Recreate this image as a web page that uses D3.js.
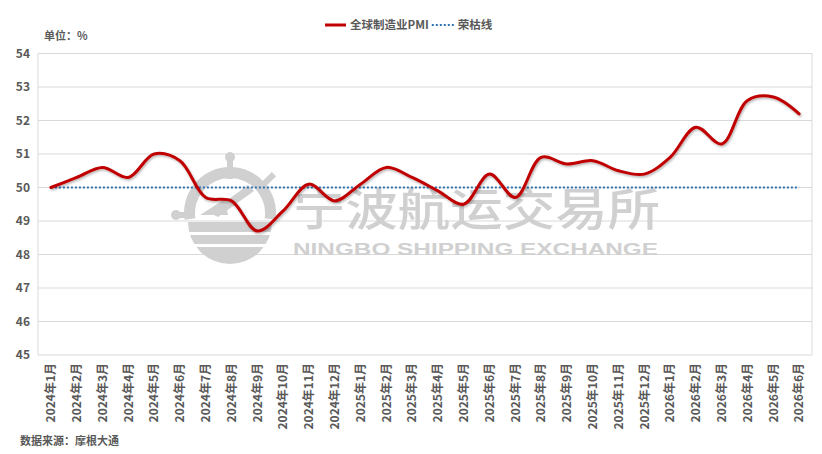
<!DOCTYPE html>
<html>
<head>
<meta charset="utf-8">
<script src="https://cdn.jsdelivr.net/npm/d3@7"></script>
<style>
  html, body { margin: 0; padding: 0; background: #fff; }
  svg { display: block; font-family: "Noto Sans CJK SC", "Noto Sans", sans-serif; }
</style>
</head>
<body>
<svg id="chart" width="822" height="454"></svg>
<script>
const months = [
    '2024年1月', '2024年2月', '2024年3月', '2024年4月', '2024年5月', '2024年6月',
    '2024年7月', '2024年8月', '2024年9月', '2024年10月', '2024年11月', '2024年12月',
    '2025年1月', '2025年2月', '2025年3月', '2025年4月', '2025年5月', '2025年6月',
    '2025年7月', '2025年8月', '2025年9月', '2025年10月', '2025年11月', '2025年12月',
    '2026年1月', '2026年2月', '2026年3月', '2026年4月', '2026年5月', '2026年6月'
];
const pmi = [
    50.0, 50.3, 50.6, 50.3, 51.0, 50.8,
    49.7, 49.6, 48.7, 49.3, 50.1, 49.6,
    50.1, 50.6, 50.3, 49.9, 49.5, 50.4,
    49.7, 50.9, 50.7, 50.8, 50.5, 50.4,
    50.9, 51.8, 51.3, 52.6, 52.7, 52.2
];
const boomBust = months.map(() => 50);
const yTicks = [45, 46, 47, 48, 49, 50, 51, 52, 53, 54];

const textColor = '#595959';
const gridColor = '#d9d9d9';
const markColor = '#d0d0d0';

const svg = d3.select('#chart');
const plot = { left: 38, right: 812, top: 53.5, bottom: 355 };

const x = d3.scaleBand().domain(months).range([plot.left, plot.right]);
const y = d3.scaleLinear().domain([45, 54]).range([plot.bottom, plot.top]);
const cx = m => x(m) + x.bandwidth() / 2;

// horizontal grid
svg.append('g').selectAll('line').data(yTicks).join('line')
    .attr('x1', plot.left).attr('x2', plot.right)
    .attr('y1', d => y(d)).attr('y2', d => y(d))
    .attr('stroke', gridColor).attr('stroke-width', 1);

// frame sides
svg.append('g').selectAll('line').data([plot.left, plot.right]).join('line')
    .attr('x1', d => d).attr('x2', d => d)
    .attr('y1', plot.top).attr('y2', plot.bottom)
    .attr('stroke', gridColor).attr('stroke-width', 1);

// watermark (logo + name), sits under the series
const wm = svg.append('g').attr('fill', markColor);
const lc = { x: 230, y: 213 };
wm.append('path')
    .attr('transform', `translate(${lc.x},${lc.y})`)
    .attr('d', d3.arc()({ innerRadius: 35, outerRadius: 46, startAngle: -Math.PI / 2 - 0.15, endAngle: Math.PI / 2 + 0.15 }));
wm.append('rect').attr('x', lc.x - 3).attr('y', 157).attr('width', 6).attr('height', 22);
wm.append('circle').attr('cx', lc.x).attr('cy', 157).attr('r', 5);
wm.append('rect').attr('x', lc.x + 36).attr('y', 172).attr('width', 6).attr('height', 14)
    .attr('transform', `rotate(45 ${lc.x + 39} 179)`);
wm.append('circle').attr('cx', 176).attr('cy', 215).attr('r', 5);
wm.append('rect').attr('x', 176).attr('y', 212).attr('width', 14).attr('height', 6);
wm.append('path')
    .attr('d', `M${lc.x - 20},${lc.y} L${lc.x + 18},${lc.y - 28} L${lc.x + 24},${lc.y - 22} L${lc.x - 12},${lc.y + 4} Z`);
wm.append('path')
    .attr('d', `M${lc.x - 30},${lc.y + 2} L${lc.x - 5},${lc.y - 14} L${lc.x - 2},${lc.y + 2} Z`);
wm.append('path')
    .attr('transform', `translate(${lc.x},222)`)
    .attr('d', d3.arc()({ innerRadius: 0, outerRadius: 42, startAngle: Math.PI / 2, endAngle: Math.PI * 1.5 }));
wm.selectAll('.band').data([232, 244]).join('rect').classed('band', true)
    .attr('x', lc.x - 45).attr('y', d => d).attr('width', 90).attr('height', 3).attr('fill', '#fff');
wm.append('text')
    .attr('x', 293).attr('y', 226)
    .attr('font-size', 45).attr('font-weight', 500)
    .attr('textLength', 367).attr('lengthAdjust', 'spacingAndGlyphs')
    .text('宁波航运交易所');
wm.append('text')
    .attr('x', 293).attr('y', 254.5)
    .attr('font-family', 'Liberation Sans, Arial, sans-serif')
    .attr('font-size', 16).attr('font-weight', 700)
    .attr('textLength', 365).attr('lengthAdjust', 'spacingAndGlyphs')
    .text('NINGBO SHIPPING EXCHANGE');

// boom-bust line
svg.append('path')
    .datum(boomBust)
    .attr('fill', 'none')
    .attr('stroke', '#2e75b6')
    .attr('stroke-width', 2)
    .attr('stroke-dasharray', '2,2')
    .attr('d', d3.line().x((_, i) => cx(months[i])).y(d => y(d)));

// PMI series
const shadow = svg.append('defs').append('filter').attr('id', 'shadow')
    .attr('x', '-5%').attr('y', '-20%').attr('width', '110%').attr('height', '140%');
shadow.append('feDropShadow').attr('dx', 1).attr('dy', 1.5).attr('stdDeviation', 1.2)
    .attr('flood-color', '#000').attr('flood-opacity', 0.3);

svg.append('path')
    .datum(pmi)
    .attr('fill', 'none')
    .attr('stroke', '#c00000')
    .attr('stroke-width', 3)
    .attr('stroke-linejoin', 'round')
    .attr('stroke-linecap', 'round')
    .attr('filter', 'url(#shadow)')
    .attr('d', d3.line().curve(d3.curveCatmullRom.alpha(0.5)).x((_, i) => cx(months[i])).y(d => y(d)));

// y labels
svg.append('g').selectAll('text').data(yTicks).join('text')
    .attr('x', 30).attr('y', d => y(d))
    .attr('dy', '0.35em')
    .attr('text-anchor', 'end')
    .attr('font-size', 12).attr('font-weight', 600)
    .attr('fill', textColor)
    .text(d => d);

// x labels, rotated
svg.append('g').selectAll('text').data(months).join('text')
    .attr('transform', d => `translate(${cx(d)},363) rotate(-90)`)
    .attr('dy', '0.35em')
    .attr('text-anchor', 'end')
    .attr('font-size', 12).attr('font-weight', 600)
    .attr('fill', textColor)
    .text(d => d);

// unit + source
svg.append('text').attr('x', 44).attr('y', 40)
    .attr('font-size', 11).attr('font-weight', 600).attr('fill', textColor)
    .text('单位：%');
svg.append('text').attr('x', 20).attr('y', 445)
    .attr('font-size', 11).attr('font-weight', 600).attr('fill', textColor)
    .text('数据来源：摩根大通');

// legend: place the second entry after the measured first label
const legend = svg.append('g').attr('transform', 'translate(325,25)');
legend.append('line').attr('x1', 0).attr('x2', 21).attr('y1', 0).attr('y2', 0)
    .attr('stroke', '#c00000').attr('stroke-width', 3);
const first = legend.append('text').attr('x', 25).attr('dy', '0.35em')
    .attr('font-size', 11.5).attr('font-weight', 600).attr('fill', textColor)
    .text('全球制造业PMI');
const sx = 25 + first.node().getComputedTextLength() + 3;
legend.append('line').attr('x1', sx).attr('x2', sx + 22).attr('y1', 0).attr('y2', 0)
    .attr('stroke', '#2e75b6').attr('stroke-width', 2).attr('stroke-dasharray', '2,2');
legend.append('text').attr('x', sx + 26).attr('dy', '0.35em')
    .attr('font-size', 11.5).attr('font-weight', 600).attr('fill', textColor)
    .text('荣枯线');
</script>
</body>
</html>
